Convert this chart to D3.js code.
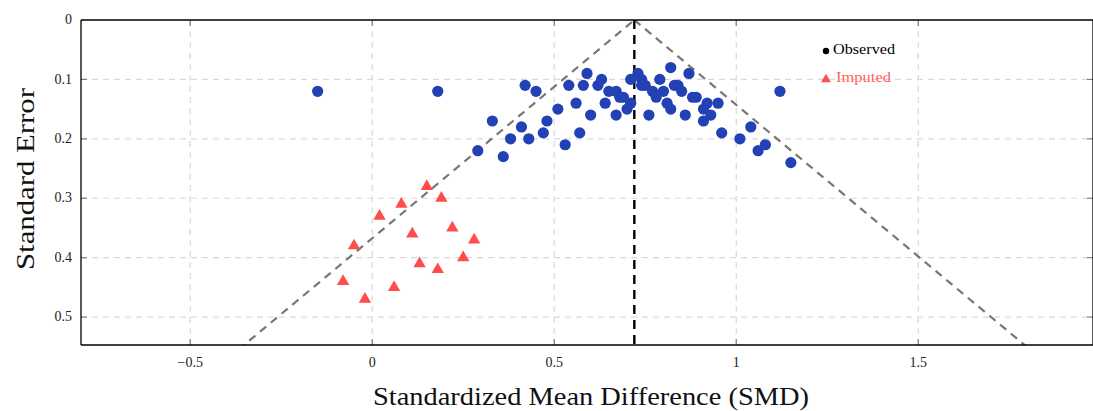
<!DOCTYPE html>
<html>
<head>
<meta charset="utf-8">
<script src="https://cdn.jsdelivr.net/npm/d3@7"></script>
<style>
  html, body { margin: 0; padding: 0; background: #fff; }
  svg { display: block; }
  text { font-family: "Liberation Serif", "DejaVu Serif", serif; }
</style>
</head>
<body>
<svg id="chart" width="1093" height="411"></svg>
<script>
// Funnel plot of study effect sizes with trim-and-fill imputed studies
const pooledSMD = 0.72;
const zCrit = 1.96;

// Observed studies
const observedSMD = [
  -0.15, 0.18, 0.42, 0.45, 0.59, 0.54, 0.58, 0.62, 0.63, 0.65, 0.67, 0.68, 0.69,
  0.71, 0.73, 0.71, 0.70, 0.67, 0.64, 0.60, 0.56, 0.51, 0.57, 0.53, 0.48, 0.47,
  0.41, 0.43, 0.38, 0.33, 0.29, 0.36,
  0.74, 0.74, 0.75, 0.82, 0.87, 0.79, 0.77, 0.80, 0.83, 0.84, 0.85, 0.78, 0.76,
  0.81, 0.82, 0.88, 0.89, 0.86, 0.92, 0.91, 0.93, 0.91, 0.95, 0.96, 1.01, 1.04,
  1.06, 1.08, 1.15, 1.12
];
const observedSE = [
  0.12, 0.12, 0.11, 0.12, 0.09, 0.11, 0.11, 0.11, 0.10, 0.12, 0.12, 0.13, 0.13,
  0.10, 0.09, 0.14, 0.15, 0.16, 0.14, 0.16, 0.14, 0.15, 0.19, 0.21, 0.17, 0.19,
  0.18, 0.20, 0.20, 0.17, 0.22, 0.23,
  0.10, 0.11, 0.11, 0.08, 0.09, 0.10, 0.12, 0.12, 0.11, 0.11, 0.12, 0.13, 0.16,
  0.14, 0.15, 0.13, 0.13, 0.16, 0.14, 0.15, 0.16, 0.17, 0.14, 0.19, 0.20, 0.18,
  0.22, 0.21, 0.24, 0.12
];

// Imputed (filled) studies
const imputedSMD = [0.15, 0.19, 0.08, 0.02, 0.11, 0.22, 0.28, -0.05, 0.25, 0.13, 0.18, -0.08, 0.06, -0.02];
const imputedSE  = [0.28, 0.30, 0.31, 0.33, 0.36, 0.35, 0.37, 0.38, 0.40, 0.41, 0.42, 0.44, 0.45, 0.47];

const xTicks = [-0.5, 0, 0.5, 1, 1.5];
const yTicks = [0, 0.1, 0.2, 0.3, 0.4, 0.5];
const legendLabels = ["Observed", "Imputed"];

const blue = "#2141b4";
const red = "#ff4d4d";

const svg = d3.select("#chart");
const m = { left: 81, right: 1093, top: 20, bottom: 345 };

const x = d3.scaleLinear().domain([-0.8, 1.98]).range([m.left, m.right]);
const y = d3.scaleLinear().domain([0, 0.547]).range([m.top, m.bottom]);

const fmt = d => d === 0 ? "0" : (d < 0 ? "\u2212" + Math.abs(d) : String(d));

// clip region for everything inside the axes box
svg.append("defs").append("clipPath").attr("id", "plotClip")
  .append("rect")
  .attr("x", m.left).attr("y", m.top)
  .attr("width", m.right - m.left).attr("height", m.bottom - m.top);

const plot = svg.append("g").attr("clip-path", "url(#plotClip)");

// grid
plot.append("g").selectAll("line").data(xTicks).join("line")
  .attr("x1", d => x(d)).attr("x2", d => x(d))
  .attr("y1", m.top).attr("y2", m.bottom)
  .attr("stroke", "#d9d9d9").attr("stroke-width", 1.2)
  .attr("stroke-dasharray", "6,5");
plot.append("g").selectAll("line").data(yTicks.filter(d => d > 0)).join("line")
  .attr("x1", m.left).attr("x2", m.right)
  .attr("y1", d => y(d)).attr("y2", d => y(d))
  .attr("stroke", "#d9d9d9").attr("stroke-width", 1.2)
  .attr("stroke-dasharray", "6,5");

// pseudo confidence funnel
const seMax = 0.6;
const funnel = [
  [[pooledSMD - zCrit * seMax, seMax], [pooledSMD, 0]],
  [[pooledSMD, 0], [pooledSMD + zCrit * seMax, seMax]]
];
const line = d3.line().x(d => x(d[0])).y(d => y(d[1]));
plot.append("g").selectAll("path").data(funnel).join("path")
  .attr("d", line)
  .attr("fill", "none")
  .attr("stroke", "#777").attr("stroke-width", 2.2)
  .attr("stroke-dasharray", "8,6");

// pooled estimate
plot.append("line")
  .attr("x1", x(pooledSMD)).attr("x2", x(pooledSMD))
  .attr("y1", y(0)).attr("y2", m.bottom)
  .attr("stroke", "#000").attr("stroke-width", 2.4)
  .attr("stroke-dasharray", "9,6");

// observed studies
plot.append("g").selectAll("circle").data(observedSMD.map((v, i) => [v, observedSE[i]]))
  .join("circle")
  .attr("cx", d => x(d[0])).attr("cy", d => y(d[1]))
  .attr("r", 5.6)
  .attr("fill", blue);

// imputed studies
const tri = d3.symbol().type(d3.symbolTriangle).size(66);
plot.append("g").selectAll("path").data(imputedSMD.map((v, i) => [v, imputedSE[i]]))
  .join("path")
  .attr("transform", d => `translate(${x(d[0])},${y(d[1])})`)
  .attr("d", tri)
  .attr("fill", red);

// tick marks on all four sides
const tickCol = "#808080";
const tk = svg.append("g").attr("stroke", tickCol).attr("stroke-width", 1.2);
xTicks.forEach(d => {
  tk.append("line").attr("x1", x(d)).attr("x2", x(d)).attr("y1", m.bottom).attr("y2", m.bottom - 6);
  tk.append("line").attr("x1", x(d)).attr("x2", x(d)).attr("y1", m.top).attr("y2", m.top + 6);
});
yTicks.filter(d => d > 0).forEach(d => {
  tk.append("line").attr("x1", m.left).attr("x2", m.left + 6).attr("y1", y(d)).attr("y2", y(d));
  tk.append("line").attr("x1", m.right).attr("x2", m.right - 6).attr("y1", y(d)).attr("y2", y(d));
});

// axis frame
const frame = svg.append("g").attr("stroke", "#000").attr("stroke-width", 1.3).attr("fill", "none");
frame.append("line").attr("x1", m.left).attr("x2", m.right).attr("y1", m.top).attr("y2", m.top);
frame.append("line").attr("x1", m.left).attr("x2", m.right).attr("y1", m.bottom).attr("y2", m.bottom);
frame.append("line").attr("x1", m.left).attr("x2", m.left).attr("y1", m.top).attr("y2", m.bottom);
frame.append("line").attr("x1", m.right).attr("x2", m.right).attr("y1", m.top).attr("y2", m.bottom);

// tick labels
svg.append("g").selectAll("text").data(xTicks).join("text")
  .attr("x", d => x(d)).attr("y", 364)
  .attr("text-anchor", "middle").attr("dominant-baseline", "middle")
  .attr("font-size", 14).attr("fill", "#222")
  .text(fmt);
svg.append("g").selectAll("text").data(yTicks).join("text")
  .attr("x", 72).attr("y", d => y(d) + 1)
  .attr("text-anchor", "end").attr("dominant-baseline", "middle")
  .attr("font-size", 14).attr("fill", "#222")
  .text(fmt);

// axis titles
svg.append("text")
  .attr("x", 591).attr("y", 399)
  .attr("text-anchor", "middle").attr("dominant-baseline", "middle")
  .attr("font-size", 26).attr("fill", "#111")
  .attr("textLength", 436).attr("lengthAdjust", "spacingAndGlyphs")
  .text("Standardized Mean Difference (SMD)");
svg.append("text")
  .attr("transform", "translate(28,179) rotate(-90)")
  .attr("text-anchor", "middle").attr("dominant-baseline", "middle")
  .attr("font-size", 26).attr("fill", "#111")
  .attr("textLength", 182).attr("lengthAdjust", "spacingAndGlyphs")
  .text("Standard Error");

// legend
const lg = svg.append("g").attr("transform", "translate(822,0)");
lg.append("circle").attr("cx", 4).attr("cy", 51).attr("r", 3.2).attr("fill", "#000");
lg.append("text").attr("x", 11).attr("y", 51).attr("dominant-baseline", "middle")
  .attr("font-size", 15).attr("fill", "#000")
  .attr("textLength", 62).attr("lengthAdjust", "spacingAndGlyphs")
  .text(legendLabels[0]);
lg.append("path").attr("transform", "translate(4,79.5)")
  .attr("d", d3.symbol().type(d3.symbolTriangle).size(42)).attr("fill", red);
lg.append("text").attr("x", 14).attr("y", 79).attr("dominant-baseline", "middle")
  .attr("font-size", 15).attr("fill", "#ff6161")
  .attr("textLength", 55).attr("lengthAdjust", "spacingAndGlyphs")
  .text(legendLabels[1]);
</script>
</body>
</html>
